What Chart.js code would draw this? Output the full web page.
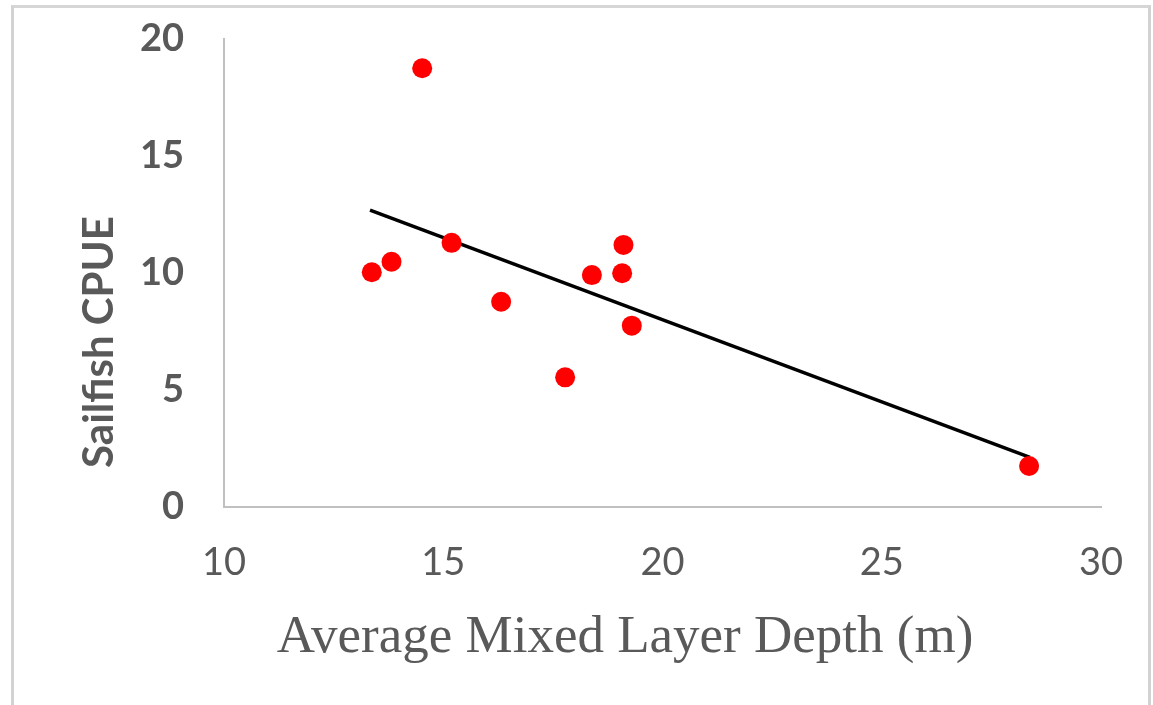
<!DOCTYPE html>
<html>
<head>
<meta charset="utf-8">
<script src="https://cdn.jsdelivr.net/npm/chart.js@4/dist/chart.umd.min.js"></script>
<style>
  html, body { margin: 0; padding: 0; background: #fff; }
  #wrap { position: relative; width: 1153px; height: 705px; }
  #frame {
    position: absolute; left: 11px; top: 5px; width: 1134px; height: 710px;
    border-left: 3px solid #d2d2d2; border-top: 3px solid #d6d6d6; border-right: 3px solid #d2d2d2;
    pointer-events: none;
  }
</style>
</head>
<body>
<div id="wrap">
  <canvas id="mldChart" width="1153" height="705"></canvas>
  <div id="frame"></div>
</div>
<script>
// mixed layer depth (m) vs sailfish CPUE
var depth = [13.37, 13.82, 14.52, 15.19, 16.32, 17.78, 18.39, 19.08, 19.11, 19.30, 28.36];
var cpue = [10.03, 10.48, 18.75, 11.29, 8.77, 5.54, 9.91, 9.99, 11.20, 7.75, 1.75];

// trendline end points
var trendX = [13.33, 28.38];
var trendY = [12.69, 2.12];

var xTitle = 'Average Mixed Layer Depth (m)';
var yTitle = 'Sailfish CPUE';

var points = depth.map(function (d, i) { return { x: d, y: cpue[i] }; });
var trend = trendX.map(function (d, i) { return { x: d, y: trendY[i] }; });

// axis titles are placed off-centre in the original, so draw them here
var axisTitles = {
  id: 'axisTitles',
  afterDraw: function (chart) {
    var c = chart.ctx;
    c.save();
    c.fillStyle = '#595959';
    c.font = '53px "Liberation Serif"';
    c.textAlign = 'center';
    c.textBaseline = 'alphabetic';
    c.fillText(xTitle, 625, 652);
    c.translate(113, 342);
    c.rotate(-Math.PI / 2);
    c.font = 'bold 42px Lato';
    c.fillText(yTitle, 0, 0);
    c.restore();
  }
};

var ctx = document.getElementById('mldChart').getContext('2d');
var myChart = new Chart(ctx, {
  type: 'scatter',
  data: {
    datasets: [{
      data: trend,
      showLine: true,
      borderColor: '#000',
      borderWidth: 3.5,
      pointRadius: 0,
      order: 2
    }, {
      data: points,
      backgroundColor: '#ff0000',
      borderWidth: 0,
      pointRadius: 10,
      order: 1
    }]
  },
  options: {
    responsive: false,
    animation: false,
    layout: { padding: { left: 0, right: 52, top: 39, bottom: 0 } },
    plugins: { legend: { display: false }, tooltip: { enabled: false } },
    scales: {
      x: {
        min: 10, max: 30,
        afterFit: function (s) { s.height = 198; s.paddingLeft = 0; s.paddingRight = 0; },
        grid: { display: false, drawTicks: false },
        border: { display: true, color: '#c0c0c0', width: 2 },
        ticks: { stepSize: 5, padding: 33, color: '#595959', font: { family: 'Lato', size: 38 } }
      },
      y: {
        min: 0, max: 20,
        afterFit: function (s) { s.width = 224; s.paddingTop = 0; s.paddingBottom = 0; },
        grid: { display: false, drawTicks: false },
        border: { display: true, color: '#c0c0c0', width: 2 },
        ticks: { stepSize: 5, padding: 40, color: '#595959', font: { family: 'Lato', size: 38, weight: 'bold' } }
      }
    }
  },
  plugins: [axisTitles]
});
</script>
</body>
</html>
